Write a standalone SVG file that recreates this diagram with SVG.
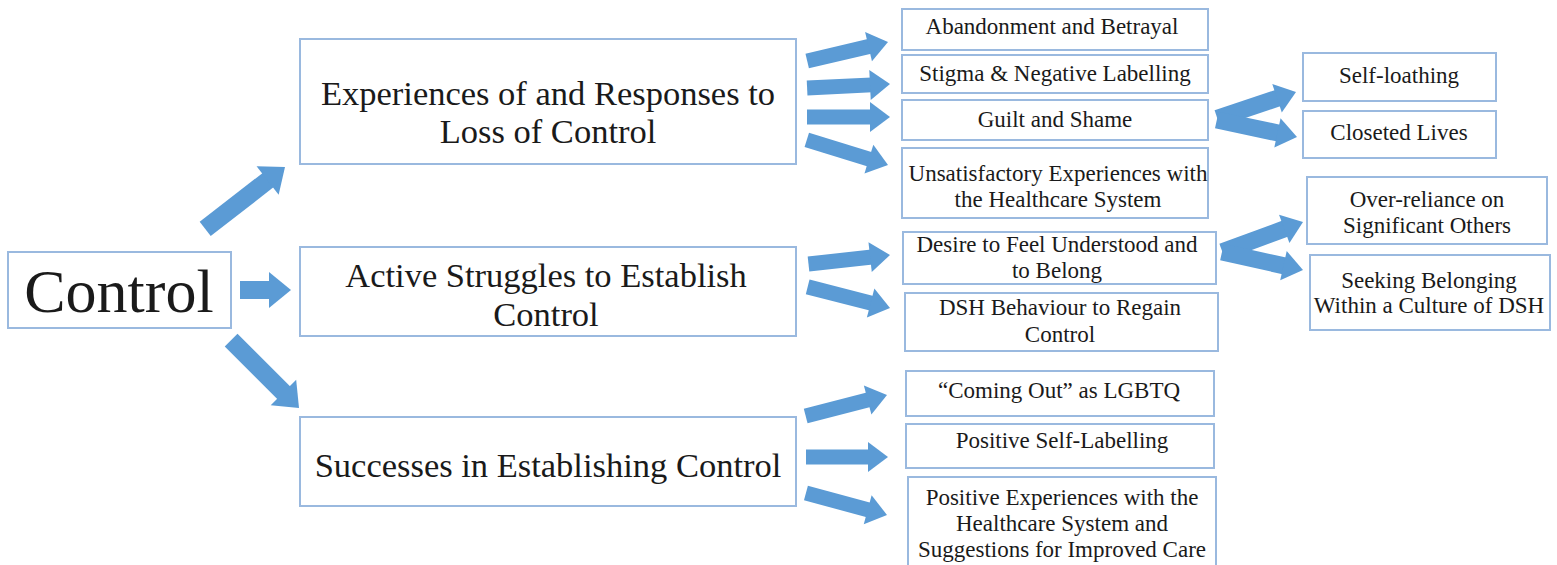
<svg xmlns="http://www.w3.org/2000/svg" width="1557" height="565" viewBox="0 0 1557 565" font-family="Liberation Serif, Times New Roman, serif">
  <style>
    .box { fill: #ffffff; stroke: #9ab9df; stroke-width: 2; }
    .arrow { fill: #5b9bd5; }
    .lbl { fill: #1a1a1a; text-anchor: middle; }
    .big { font-size: 62px; }
    .main { font-size: 34.5px; }
    .sub { font-size: 23px; }
  </style>
  <defs>
    <!-- arrowheads pointing along +x with the tip at the origin -->
    <polygon id="headS" points="0,0 -20,-15 -20,15"/>
    <polygon id="headL" points="0,0 -22,-18 -22,18"/>
  </defs>
  <rect width="1557" height="565" fill="#ffffff"/>

  <!-- connectors -->
  <g id="connectors" class="arrow">
    <!-- root to themes -->
    <g transform="translate(285,167) rotate(-37.8)"><rect x="-101" y="-9" width="81" height="18"/><use href="#headL"/></g>
    <g transform="translate(291,290)"><rect x="-51" y="-9" width="31" height="18"/><use href="#headL"/></g>
    <g transform="translate(299,408) rotate(45)"><rect x="-96" y="-9" width="76" height="18"/><use href="#headL"/></g>
    <!-- theme 1 to subthemes -->
    <g transform="translate(888,42) rotate(-13.2)"><rect x="-83" y="-7.5" width="65" height="15"/><use href="#headS"/></g>
    <g transform="translate(890,84) rotate(-2.8)"><rect x="-83" y="-7.5" width="65" height="15"/><use href="#headS"/></g>
    <g transform="translate(890,117)"><rect x="-83" y="-7.5" width="65" height="15"/><use href="#headS"/></g>
    <g transform="translate(888,165) rotate(17.2)"><rect x="-85" y="-7.5" width="67" height="15"/><use href="#headS"/></g>
    <!-- theme 2 to subthemes -->
    <g transform="translate(890,255) rotate(-6.3)"><rect x="-82" y="-7.5" width="64" height="15"/><use href="#headS"/></g>
    <g transform="translate(890,308) rotate(14.4)"><rect x="-85" y="-7.5" width="67" height="15"/><use href="#headS"/></g>
    <!-- theme 3 to subthemes -->
    <g transform="translate(887,395) rotate(-14.5)"><rect x="-84" y="-7.5" width="66" height="15"/><use href="#headS"/></g>
    <g transform="translate(888,457)"><rect x="-82" y="-7.5" width="64" height="15"/><use href="#headS"/></g>
    <g transform="translate(887,515) rotate(15.2)"><rect x="-84" y="-7.5" width="66" height="15"/><use href="#headS"/></g>
    <!-- subthemes to sub-subthemes -->
    <g transform="translate(1296,92) rotate(-18.5)"><rect x="-83" y="-8.5" width="65" height="17"/><use href="#headS"/></g>
    <g transform="translate(1297,137) rotate(12)"><rect x="-82" y="-8.5" width="64" height="17"/><use href="#headS"/></g>
    <g transform="translate(1303,222) rotate(-20.3)"><rect x="-86" y="-8.5" width="68" height="17"/><use href="#headS"/></g>
    <g transform="translate(1303,270) rotate(12.5)"><rect x="-83" y="-8.5" width="65" height="17"/><use href="#headS"/></g>
  </g>

  <!-- root -->
  <g id="control">
    <rect class="box" x="8" y="252" width="223" height="76"/>
    <text class="lbl big" x="119" y="312">Control</text>
  </g>

  <!-- themes -->
  <g id="experiences-loss">
    <rect class="box" x="300" y="39" width="496" height="125"/>
    <text class="lbl main" x="548" y="105">Experiences of and Responses to</text>
    <text class="lbl main" x="548" y="143">Loss of Control</text>
  </g>
  <g id="active-struggles">
    <rect class="box" x="300" y="247" width="496" height="89"/>
    <text class="lbl main" x="546" y="287">Active Struggles to Establish</text>
    <text class="lbl main" x="546" y="326">Control</text>
  </g>
  <g id="successes">
    <rect class="box" x="300" y="417" width="496" height="89"/>
    <text class="lbl main" x="548" y="477">Successes in Establishing Control</text>
  </g>

  <!-- subthemes -->
  <g id="abandonment">
    <rect class="box" x="902" y="9" width="306" height="41"/>
    <text class="lbl sub" x="1052" y="34">Abandonment and Betrayal</text>
  </g>
  <g id="stigma">
    <rect class="box" x="902" y="55" width="306" height="38"/>
    <text class="lbl sub" x="1055" y="81">Stigma &amp; Negative Labelling</text>
  </g>
  <g id="guilt">
    <rect class="box" x="902" y="100" width="306" height="40"/>
    <text class="lbl sub" x="1055" y="127">Guilt and Shame</text>
  </g>
  <g id="unsatisfactory">
    <rect class="box" x="902" y="148" width="306" height="70"/>
    <text class="lbl sub" x="1058" y="181">Unsatisfactory Experiences with</text>
    <text class="lbl sub" x="1058" y="207">the Healthcare System</text>
  </g>
  <g id="desire">
    <rect class="box" x="903" y="232" width="313" height="52"/>
    <text class="lbl sub" x="1057" y="252">Desire to Feel Understood and</text>
    <text class="lbl sub" x="1057" y="278">to Belong</text>
  </g>
  <g id="dsh-behaviour">
    <rect class="box" x="905" y="293" width="313" height="58"/>
    <text class="lbl sub" x="1060" y="315">DSH Behaviour to Regain</text>
    <text class="lbl sub" x="1060" y="342">Control</text>
  </g>
  <g id="coming-out">
    <rect class="box" x="906" y="371" width="308" height="45"/>
    <text class="lbl sub" x="1059" y="398">“Coming Out” as LGBTQ</text>
  </g>
  <g id="positive-labelling">
    <rect class="box" x="906" y="424" width="308" height="44"/>
    <text class="lbl sub" x="1062" y="448">Positive Self-Labelling</text>
  </g>
  <g id="positive-experiences">
    <rect class="box" x="908" y="477" width="308" height="100"/>
    <text class="lbl sub" x="1062" y="505">Positive Experiences with the</text>
    <text class="lbl sub" x="1062" y="531">Healthcare System and</text>
    <text class="lbl sub" x="1062" y="557">Suggestions for Improved Care</text>
  </g>

  <!-- sub-subthemes -->
  <g id="self-loathing">
    <rect class="box" x="1303" y="53" width="193" height="48"/>
    <text class="lbl sub" x="1399" y="83">Self-loathing</text>
  </g>
  <g id="closeted">
    <rect class="box" x="1303" y="111" width="193" height="47"/>
    <text class="lbl sub" x="1399" y="140">Closeted Lives</text>
  </g>
  <g id="over-reliance">
    <rect class="box" x="1307" y="177" width="240" height="67"/>
    <text class="lbl sub" x="1427" y="207">Over-reliance on</text>
    <text class="lbl sub" x="1427" y="233">Significant Others</text>
  </g>
  <g id="seeking-belonging">
    <rect class="box" x="1310" y="255" width="240" height="75"/>
    <text class="lbl sub" x="1429" y="288">Seeking Belonging</text>
    <text class="lbl sub" x="1429" y="313">Within a Culture of DSH</text>
  </g>
</svg>
